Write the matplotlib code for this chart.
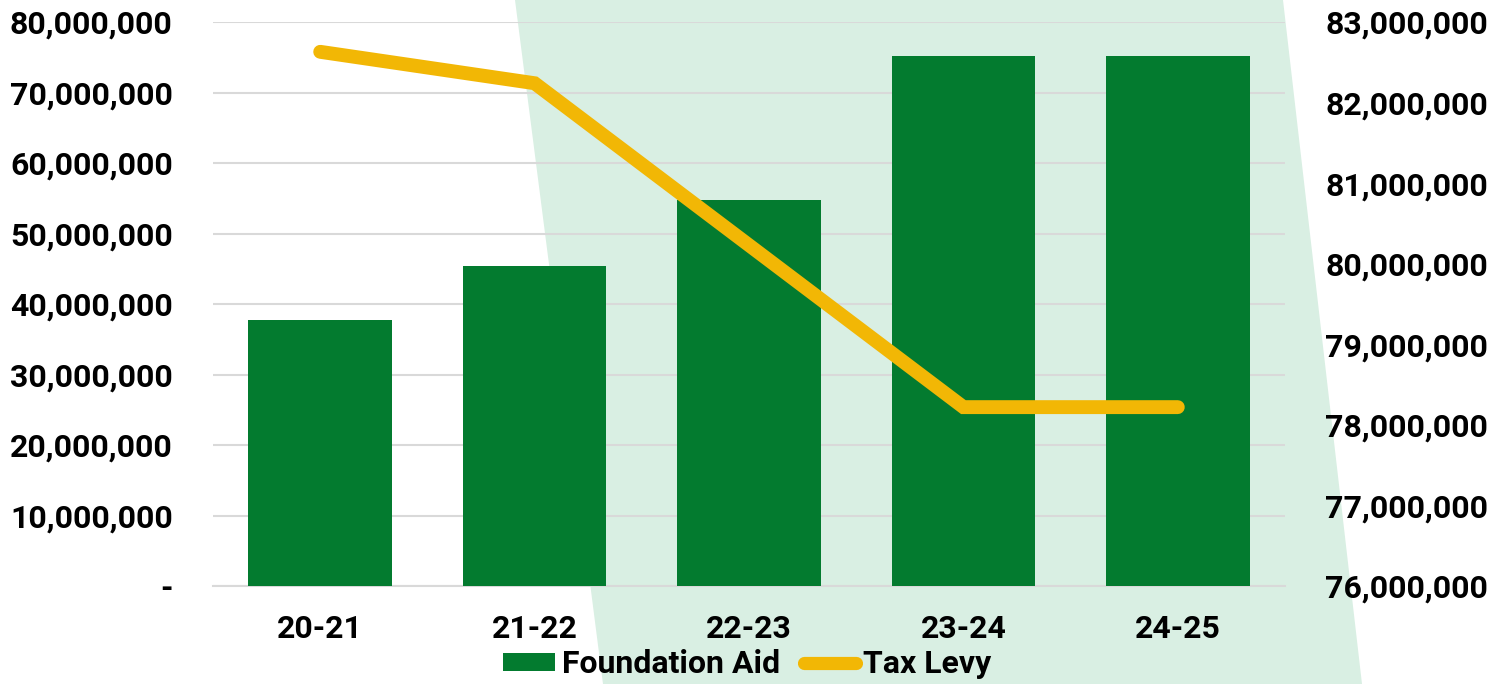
import matplotlib
matplotlib.use("Agg")
import matplotlib.pyplot as plt
from matplotlib.patches import Polygon
from matplotlib.ticker import FuncFormatter
from matplotlib.lines import Line2D
from matplotlib.patches import Patch

categories = ["20-21", "21-22", "22-23", "23-24", "24-25"]
foundation_aid = [37_700_000, 45_400_000, 54_800_000, 75_200_000, 75_200_000]
tax_levy = [82_630_000, 82_240_000, 80_230_000, 78_220_000, 78_220_000]
left_ticks = [0, 10_000_000, 20_000_000, 30_000_000, 40_000_000, 50_000_000, 60_000_000, 70_000_000, 80_000_000]
right_ticks = [76_000_000, 77_000_000, 78_000_000, 79_000_000, 80_000_000, 81_000_000, 82_000_000, 83_000_000]

GREEN = "#037b2f"
GOLD = "#f2b705"
BG = "#d9efe3"
GRID = "#d9d9d9"

plt.rcParams['font.family'] = ['Roboto', 'DejaVu Sans']
plt.rcParams['font.weight'] = 'bold'

W, H = 1491, 684
fig = plt.figure(figsize=(W / 100, H / 100), dpi=100)

# background skewed band
poly = Polygon([(515 / W, 1), (1283 / W, 1), (1362 / W, 0), (603 / W, 0)],
               closed=True, transform=fig.transFigure, facecolor=BG,
               edgecolor='none', zorder=-5)
fig.patches.append(poly)

ax = fig.add_axes([213 / W, 1 - 586 / H, (1285 - 213) / W, (586 - 22) / H])
ax.set_facecolor('none')
x = list(range(len(categories)))
ax.bar(x, foundation_aid, width=0.67, color=GREEN, zorder=3)
ax.set_xlim(-0.5, len(categories) - 0.5)
ax.set_ylim(0, 80_000_000)
ax.set_yticks(left_ticks)
ax.yaxis.set_major_formatter(FuncFormatter(lambda v, p: "-" if v == 0 else f"{int(v):,}"))
ax.set_xticks(x)
ax.set_xticklabels(categories)
ax.grid(axis='y', color=GRID, linewidth=1.5, zorder=0)
ax.set_axisbelow(True)
for s in ['top', 'right', 'left']:
    ax.spines[s].set_visible(False)
ax.spines['bottom'].set_color(GRID)
ax.spines['bottom'].set_linewidth(1.5)
ax.tick_params(axis='both', length=0)
ax.tick_params(axis='y', pad=29, labelsize=23)
ax.tick_params(axis='x', pad=20, labelsize=23)
for lab in ax.get_xticklabels() + ax.get_yticklabels():
    lab.set_fontweight('bold')

ax2 = ax.twinx()
ax2.set_facecolor('none')
ax2.plot(x, tax_levy, color=GOLD, linewidth=10, solid_capstyle='round',
         solid_joinstyle='miter', zorder=4)
ax2.set_ylim(76_000_000, 83_000_000)
ax2.set_yticks(right_ticks)
ax2.yaxis.set_major_formatter(FuncFormatter(lambda v, p: f"{int(v):,}"))
for s in ['top', 'right', 'left', 'bottom']:
    ax2.spines[s].set_visible(False)
ax2.tick_params(axis='y', length=0, labelsize=23, pad=29)
for lab in ax2.get_yticklabels():
    lab.set_fontweight('bold')

handles = [Patch(facecolor=GREEN, edgecolor='none', label="Foundation Aid"),
           Line2D([0], [0], color=GOLD, linewidth=9.5, solid_capstyle='round', label="Tax Levy")]
fig.legend(handles=handles, loc='center', bbox_to_anchor=(747 / W, 1 - 664 / H),
           ncol=2, frameon=False, prop={'size': 23, 'weight': 'bold'},
           handlelength=1.63, handleheight=0.5, handletextpad=0.22, columnspacing=0.75,
           borderaxespad=0, borderpad=0)

fig.savefig("out.png", dpi=100)
